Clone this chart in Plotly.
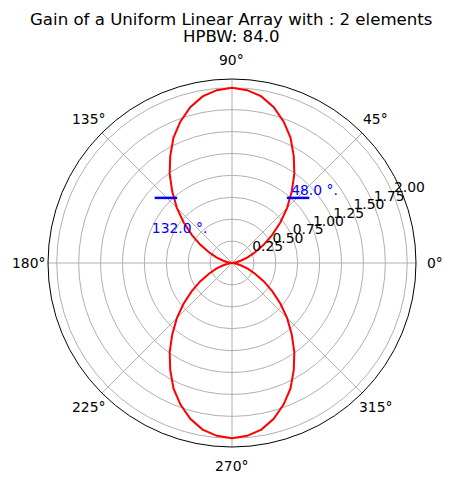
import plotly.graph_objects as go
import numpy as np

# Angles (degrees) and gain values
theta_deg = list(range(0, 365, 5))
gain = [0.00, 0.01, 0.05, 0.11, 0.19, 0.29, 0.42, 0.56, 0.72, 0.89, 1.06, 1.24,
        1.41, 1.58, 1.72, 1.84, 1.93, 1.98, 2.00, 1.98, 1.93, 1.84, 1.72, 1.58,
        1.41, 1.24, 1.06, 0.89, 0.72, 0.56, 0.42, 0.29, 0.19, 0.11, 0.05, 0.01,
        0.00, 0.01, 0.05, 0.11, 0.19, 0.29, 0.42, 0.56, 0.72, 0.89, 1.06, 1.24,
        1.41, 1.58, 1.72, 1.84, 1.93, 1.98, 2.00, 1.98, 1.93, 1.84, 1.72, 1.58,
        1.41, 1.24, 1.06, 0.89, 0.72, 0.56, 0.42, 0.29, 0.19, 0.11, 0.05, 0.01,
        0.00]

hp_angles = [48.0, 132.0]
hp_level = [1.0, 1.0]
hp_labels = ["48.0 °.", "132.0 °."]
hpbw = 84.0
n_elements = 2
radial_ticks = [0.25, 0.50, 0.75, 1.00, 1.25, 1.50, 1.75, 2.00]
angle_ticks = [0, 45, 90, 135, 180, 225, 270, 315]

RMAX = 2.1
W, H = 453, 485
# polar area in pixels
X0, X1, Y0, Y1 = 48, 416, 79, 447
CX, CY = (X0 + X1) / 2, (Y0 + Y1) / 2
RPX = (X1 - X0) / 2
FS = 13.9

fig = go.Figure()
fig.add_trace(go.Scatterpolar(r=gain, theta=theta_deg, mode="lines",
                              line=dict(color="red", width=2), showlegend=False))

# half-power markers: short horizontal dashes pointing outward
for ang, lvl in zip(hp_angles, hp_level):
    x = lvl * np.cos(np.radians(ang))
    y = lvl * np.sin(np.radians(ang))
    sgn = 1 if x > 0 else -1
    xc = x + sgn * 0.085
    rc = float(np.hypot(xc, y))
    tc = float(np.degrees(np.arctan2(y, xc)))
    fig.add_trace(go.Scatterpolar(r=[rc], theta=[tc], mode="markers",
                                  marker=dict(symbol="line-ew", size=16,
                                              line=dict(color="blue", width=2.5)),
                                  showlegend=False))

# half-power labels
fig.add_trace(go.Scatterpolar(r=[hp_level[0]], theta=[hp_angles[0] - 0.5], mode="text",
                              text=[hp_labels[0]], textposition="top right",
                              textfont=dict(color="blue", size=FS, family="DejaVu Sans"),
                              showlegend=False))
fig.add_trace(go.Scatterpolar(r=[hp_level[1] * 0.99], theta=[hp_angles[1] + 25.5], mode="text",
                              text=[hp_labels[1]], textposition="middle right",
                              textfont=dict(color="blue", size=FS, family="DejaVu Sans"),
                              showlegend=False))

# radial tick labels along 22.5 degrees (matplotlib style, unrotated)
fig.add_trace(go.Scatterpolar(r=radial_ticks, theta=[22.5] * len(radial_ticks), mode="text",
                              text=[f"{v:.2f}" for v in radial_ticks], textposition="top right",
                              textfont=dict(color="black", size=FS, family="DejaVu Sans"),
                              cliponaxis=False, showlegend=False))

title_lines = [f"Gain of a Uniform Linear Array with : {n_elements} elements", f"HPBW: {hpbw}"]
title_y = [20, 37]
annotations = []
for t, ty in zip(title_lines, title_y):
    annotations.append(dict(text=t, xref="paper", yref="paper", x=231 / W, y=1 - ty / H,
                            xanchor="center", yanchor="middle", showarrow=False,
                            font=dict(size=16.6, family="DejaVu Sans", color="black")))

# angular tick labels outside the circle
LBL_R = RPX + 19
for a in angle_ticks:
    px = CX + LBL_R * np.cos(np.radians(a))
    py = CY - LBL_R * np.sin(np.radians(a))
    annotations.append(dict(text=f"{a}°", xref="paper", yref="paper",
                            x=px / W, y=1 - py / H, xanchor="center", yanchor="middle",
                            showarrow=False,
                            font=dict(size=FS, family="DejaVu Sans", color="black")))

fig.update_layout(
    width=W, height=H,
    margin=dict(l=0, r=0, t=0, b=0),
    paper_bgcolor="white",
    font=dict(family="DejaVu Sans", size=FS, color="black"),
    annotations=annotations,
    polar=dict(
        domain=dict(x=[X0 / W, X1 / W], y=[(H - Y1) / H, (H - Y0) / H]),
        bgcolor="white",
        radialaxis=dict(range=[0, RMAX], tickvals=radial_ticks,
                        showticklabels=False,
                        angle=22.5, showline=False, ticks="",
                        gridcolor="#b0b0b0", gridwidth=0.8),
        angularaxis=dict(direction="counterclockwise", rotation=0,
                         tickvals=angle_ticks, showticklabels=False,
                         showline=True, linecolor="black", linewidth=1,
                         gridcolor="#b0b0b0", gridwidth=0.8, ticks=""),
    ),
)

fig.write_html("out.html")
